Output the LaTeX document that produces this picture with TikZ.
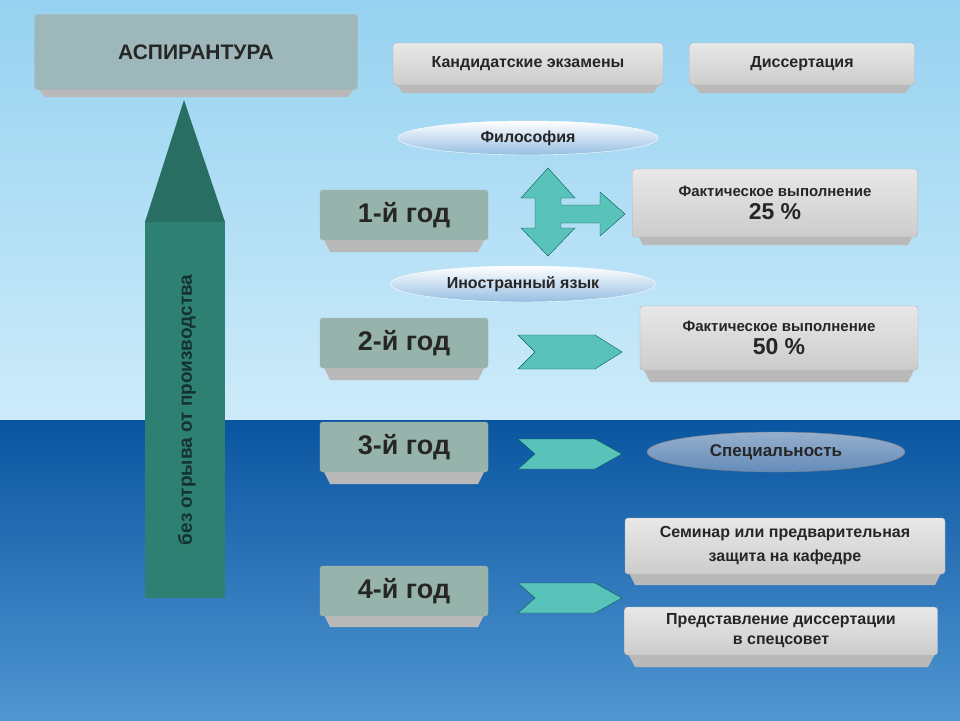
\documentclass[tikz,border=0pt]{standalone}
\usepackage{fontspec}
\setmainfont{Liberation Sans}
\usetikzlibrary{shapes.geometric,shapes.arrows}
\definecolor{skytop}{RGB}{150,210,240}
\definecolor{skybot}{RGB}{205,235,250}
\definecolor{seatop}{RGB}{10,85,160}
\definecolor{seabot}{RGB}{80,150,210}
\definecolor{aspc}{RGB}{157,183,186}
\definecolor{tipc}{RGB}{40,110,98}
\definecolor{shaftc}{RGB}{46,128,114}
\definecolor{lblc}{RGB}{20,50,50}
\definecolor{ovb}{RGB}{150,190,225}
\definecolor{spt}{RGB}{150,175,205}
\definecolor{spb}{RGB}{100,140,185}
\definecolor{yearc}{RGB}{150,180,172}
\definecolor{chevc}{RGB}{90,195,185}
\newcommand{\fs}[1]{\fontsize{#1}{#1}\selectfont}
\begin{document}
\begin{tikzpicture}[x=1pt,y=-1pt,
  box/.style={draw=gray!60,rounded corners=3pt,font=\bfseries\fs{16},align=center,inner sep=0pt,text=black!85},
  graybox/.style={box,top color=gray!18,bottom color=gray!40},
  yearbox/.style={box,fill=yearc,font=\bfseries\fs{27}},
  oval/.style={ellipse,draw=white,font=\bfseries\fs{16},inner sep=0pt,text=black!85},
  chev/.style={fill=chevc,draw=teal!70!black,line width=0.4pt}]
\useasboundingbox (0,0) rectangle (960,720);
\shade[top color=skytop,bottom color=skybot] (0,0) rectangle (960,420);
\shade[top color=seatop,bottom color=seabot] (0,420) rectangle (960,720);
\foreach \a/\b/\c/\d in {35/358/88/97, 393/663/84/93, 690/915/84/93, 320/488/238/252, 320/488/366/380, 320/488/470/484, 320/488/613/627, 633/918/232/245, 640/918/368/382, 625/945/571/585, 625/938/654/667}
  \fill[gray!55] (\a+3,\c) -- (\b-3,\c) -- (\b-10,\d) -- (\a+10,\d) -- cycle;
\node[box,fill=aspc,minimum width=323pt,minimum height=75pt,font=\bfseries\fs{21}] (asp) at (196,52) {АСПИРАНТУРА};
\fill[tipc] (184,100) -- (225,222) -- (145,222) -- cycle;
\node[fill=shaftc,minimum width=80pt,minimum height=376pt,inner sep=0pt] (shaft) at (185,410) {};
\node[rotate=90,font=\bfseries\fs{19},text=lblc] (lbl) at (187,410) {без отрыва от производства};
\node[graybox,minimum width=270pt,minimum height=42pt] (ex) at (528,64) {Кандидатские экзамены};
\node[graybox,minimum width=225pt,minimum height=42pt] (dis) at (802,64) {Диссертация};
\node[oval,top color=white,bottom color=ovb,minimum width=260pt,minimum height=34pt] (fil) at (528,138) {Философия};
\node[oval,top color=white,bottom color=ovb,minimum width=265pt,minimum height=36pt] (lang) at (523,284) {Иностранный язык};
\node[yearbox,minimum width=168pt,minimum height=50pt] (y1) at (404,215) {1-й год};
\node[yearbox,minimum width=168pt,minimum height=50pt] (y2) at (404,343) {2-й год};
\node[yearbox,minimum width=168pt,minimum height=50pt] (y3) at (404,447) {3-й год};
\node[yearbox,minimum width=168pt,minimum height=50pt] (y4) at (404,591) {4-й год};
\node[graybox,minimum width=285pt,minimum height=68pt,font=\bfseries\fs{15}] (f25) at (775,203) {Фактическое выполнение\\[6pt]\fs{23}25 \%};
\node[graybox,minimum width=278pt,minimum height=64pt,font=\bfseries\fs{15}] (f50) at (779,338) {Фактическое выполнение\\[6pt]\fs{23}50 \%};
\node[oval,draw=gray,top color=spt,bottom color=spb,minimum width=258pt,minimum height=40pt,font=\bfseries\fs{17}] (spec) at (776,452) {Специальность};
\node[graybox,minimum width=320pt,minimum height=56pt] (sem) at (785,546) {Семинар или предварительная\\[8pt]защита на кафедре};
\node[graybox,minimum width=313pt,minimum height=48pt] (pred) at (781,631) {Представление диссертации\\[4pt]в спецсовет};
\draw[chev] (548,168) -- (575,198) -- (561,198) -- (561,205) -- (600,205) -- (600,192) -- (625,214) -- (600,236) -- (600,223) -- (561,223) -- (561,228) -- (575,228) -- (548,256) -- (521,228) -- (535,228) -- (535,198) -- (521,198) -- cycle;
\foreach \y/\h in {352/17, 454/15, 598/15}
  \draw[chev] (518,\y-\h) -- (595,\y-\h) -- (622,\y) -- (595,\y+\h) -- (518,\y+\h) -- (535,\y) -- cycle;
\end{tikzpicture}
\end{document}
